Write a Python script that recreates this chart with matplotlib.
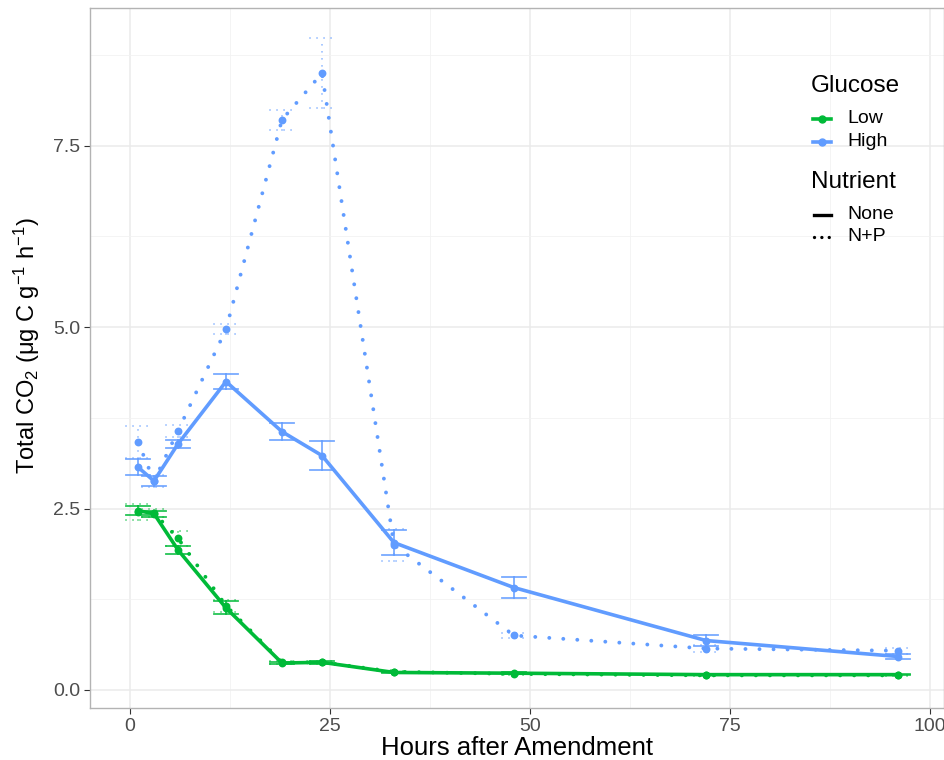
import matplotlib
matplotlib.use("Agg")
import matplotlib.pyplot as plt
from matplotlib.lines import Line2D

plt.rcParams["font.family"] = ["Liberation Sans", "DejaVu Sans"]
plt.rcParams["mathtext.fontset"] = "custom"
plt.rcParams["mathtext.rm"] = "Liberation Sans"
plt.rcParams["mathtext.it"] = "Liberation Sans:italic"
plt.rcParams["mathtext.bf"] = "Liberation Sans:bold"

# data
hours = [1, 3, 6, 12, 19, 24, 33, 48, 72, 96]
low_none = [2.47, 2.43, 1.93, 1.13, 0.37, 0.38, 0.24, 0.23, 0.21, 0.21]
low_none_se = [0.06, 0.04, 0.06, 0.09, 0.02, 0.02, 0.01, 0.01, 0.01, 0.01]
low_np = [2.45, 2.44, 2.09, 1.16, 0.38, 0.38, 0.25, 0.22, 0.20, 0.20]
low_np_se = [0.11, 0.06, 0.10, 0.08, 0.02, 0.02, 0.01, 0.01, 0.01, 0.01]
high_none = [3.07, 2.88, 3.39, 4.25, 3.56, 3.23, 2.03, 1.41, 0.68, 0.46]
high_none_se = [0.11, 0.07, 0.06, 0.10, 0.12, 0.20, 0.17, 0.14, 0.08, 0.04]
high_np = [3.42, 2.88, 3.57, 4.97, 7.86, 8.50, 2.00, 0.75, 0.57, 0.54]
high_np_se = [0.22, 0.08, 0.08, 0.07, 0.14, 0.48, 0.22, 0.04, 0.05, 0.04]

glucose_labels = ["Low", "High"]
nutrient_labels = ["None", "N+P"]

green = "#00BA38"
blue = "#619CFF"
dot_line = (0, (0.01, 3.6))
dot_err = (0, (0.01, 4.2))

fig = plt.figure(figsize=(9.45, 7.6), dpi=100)
ax = fig.add_axes([0.0952, 0.0684, 0.9038, 0.9211])

series = [
    (low_none, low_none_se, green, "-", "-"),
    (low_np, low_np_se, green, dot_line, dot_err),
    (high_none, high_none_se, blue, "-", "-"),
    (high_np, high_np_se, blue, dot_line, dot_err),
]
for vals, se, col, ls, els in series:
    lw = 2.6 if ls == "-" else 2.8
    ax.plot(hours, vals, color=col, lw=lw, ls=ls, dash_capstyle="round",
            solid_capstyle="round", zorder=3)
    ax.scatter(hours, vals, color=col, s=32, zorder=4, linewidths=0)
    elw = 1.3 if els == "-" else 1.2
    for h, v, e in zip(hours, vals, se):
        ax.plot([h, h], [v - e, v + e], color=col, lw=elw, ls=els,
                dash_capstyle="round", alpha=0.85, zorder=2)
        for yy in (v - e, v + e):
            ax.plot([h - 1.45, h + 1.45], [yy, yy], color=col, lw=elw, ls=els,
                    dash_capstyle="round", alpha=0.85, zorder=2)

ax.set_xlim(-5, 101.75)
ax.set_ylim(-0.25, 9.4)
ax.set_xticks([0, 25, 50, 75, 100])
ax.set_yticks([0, 2.5, 5.0, 7.5])
ax.set_yticklabels(["0.0", "2.5", "5.0", "7.5"])
ax.set_xticks([12.5, 37.5, 62.5, 87.5], minor=True)
ax.set_yticks([1.25, 3.75, 6.25, 8.75], minor=True)
ax.grid(which="major", color="#EBEBEB", lw=1.1)
ax.grid(which="minor", color="#F2F2F2", lw=0.6)
ax.set_axisbelow(True)
ax.tick_params(which="major", labelsize=14, colors="#333333", labelcolor="#4D4D4D",
               length=4, width=0.8, pad=3)
ax.tick_params(which="minor", length=0)
for s in ax.spines.values():
    s.set_color("#B3B3B3")
    s.set_linewidth(1.0)

ax.set_xlabel("Hours after Amendment", fontsize=18.5, labelpad=1)
ax.set_ylabel("Total CO$_\\mathregular{2}$ (\u03bcg C g$^\\mathregular{-1}$ h$^\\mathregular{-1}$)",
              fontsize=17)
ax.yaxis.set_label_coords(-0.056, 0.517)

# legends drawn by hand, positions in axes fraction
def fx(px):
    return (px - 90) / 854

def fy(py):
    return (708 - py) / 700

ax.text(fx(811), fy(92), "Glucose", transform=ax.transAxes, fontsize=17.5,
        va="baseline", ha="left")
for lab, col, py in zip(glucose_labels, [green, blue], [119, 142]):
    ax.add_line(Line2D([fx(813), fx(831)], [fy(py), fy(py)], color=col, lw=2.6,
                       transform=ax.transAxes, clip_on=False))
    ax.add_line(Line2D([fx(822)], [fy(py)], color=col, marker="o", ms=5,
                       transform=ax.transAxes, clip_on=False))
    ax.text(fx(847), fy(py), lab, transform=ax.transAxes, fontsize=14,
            va="center", ha="left")

ax.text(fx(811), fy(188), "Nutrient", transform=ax.transAxes, fontsize=17.5,
        va="baseline", ha="left")
for lab, ls, py in zip(nutrient_labels, ["-", (0, (0.01, 2.2))], [215, 237]):
    ax.add_line(Line2D([fx(814), fx(831)], [fy(py), fy(py)], color="black", lw=2.4,
                       ls=ls, dash_capstyle="round", transform=ax.transAxes,
                       clip_on=False))
    ax.text(fx(847), fy(py), lab, transform=ax.transAxes, fontsize=14,
            va="center", ha="left")

fig.savefig("out.png", dpi=100)
